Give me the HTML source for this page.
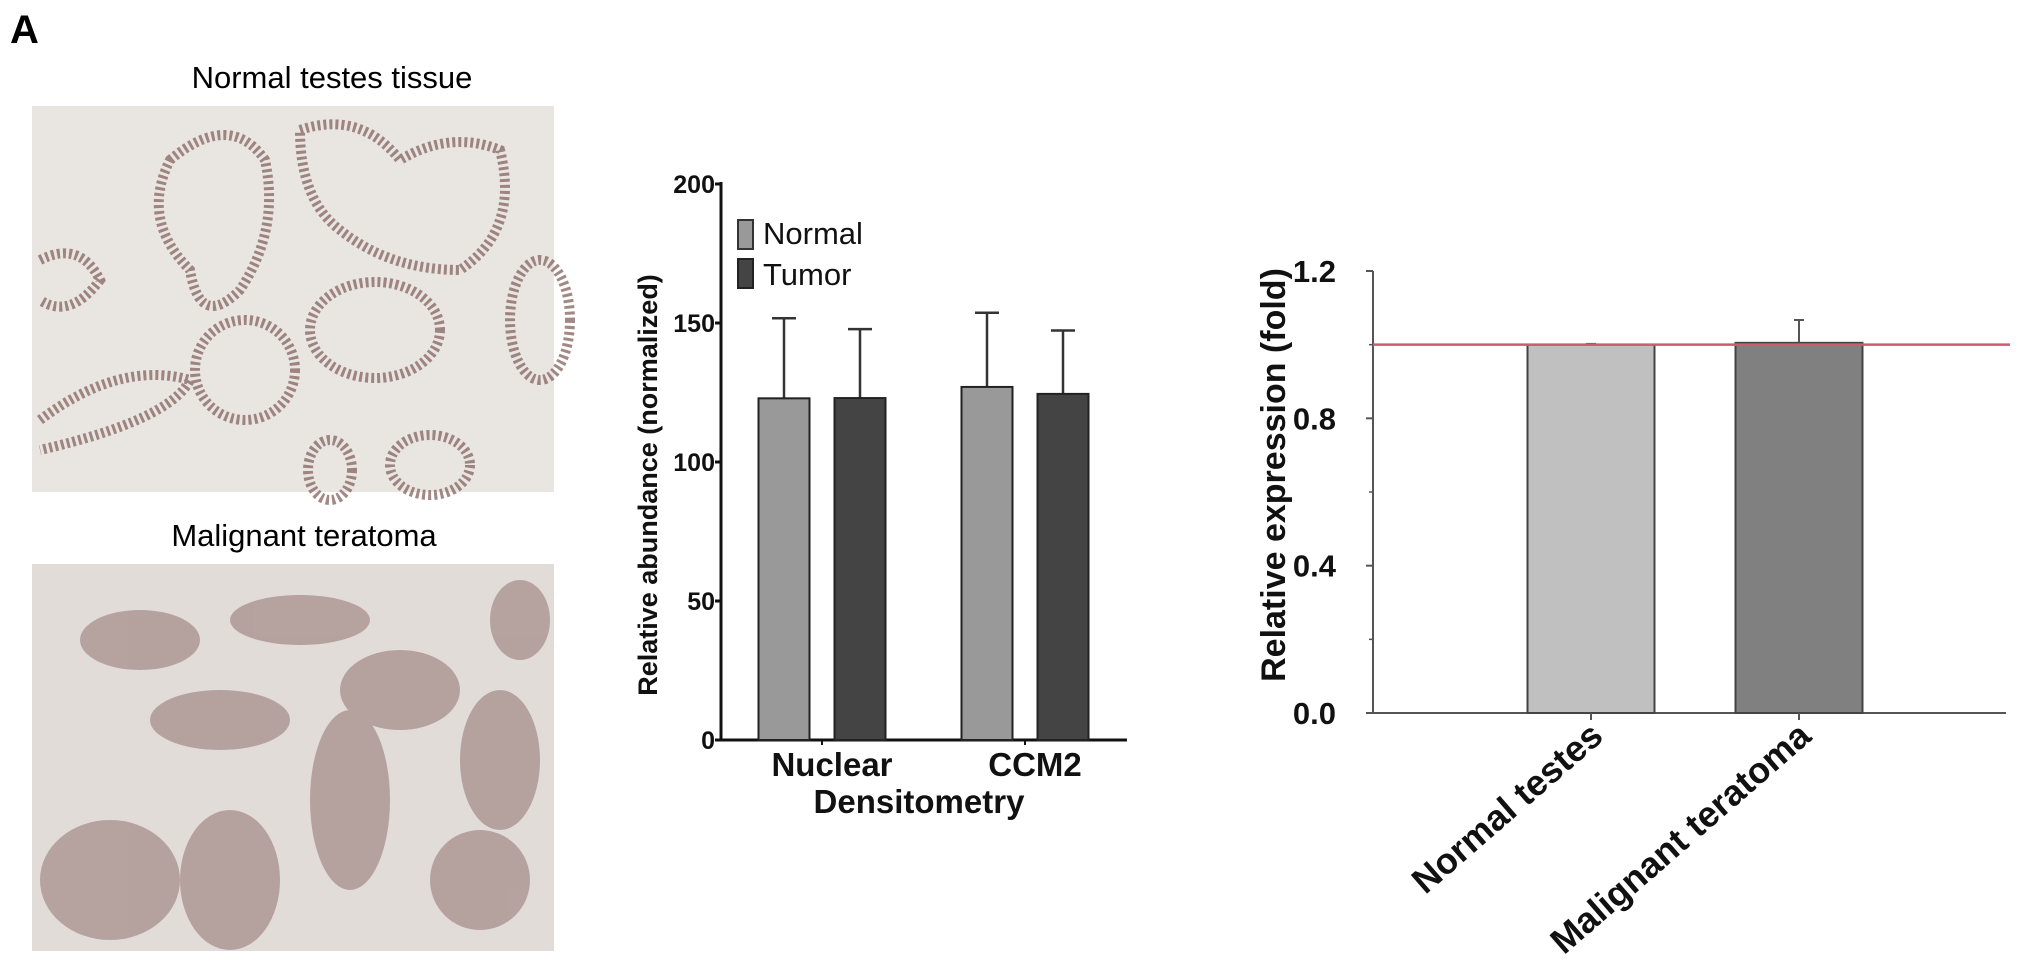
<!DOCTYPE html>
<html><head><meta charset="utf-8"><style>
html,body{margin:0;padding:0;background:#fff;}
svg{display:block;font-family:"Liberation Sans",Arial,sans-serif;}
</style></head><body>
<svg width="2031" height="964" viewBox="0 0 2031 964">
<text x="10" y="43" font-size="40" font-weight="bold">A</text>
<text x="332" y="88" font-size="31" text-anchor="middle">Normal testes tissue</text>
<g>
<rect x="32" y="106" width="522" height="386" fill="#e9e6e1"/>
<g fill="none" stroke="#8c6c68" stroke-width="10" stroke-dasharray="3 3" opacity="0.8">
<path d="M170 160 Q230 110 265 160 Q280 230 240 290 Q200 330 190 270 Q140 220 170 160Z"/>
<path d="M300 130 Q360 110 400 160 Q450 130 500 150 Q520 230 460 270 Q390 270 340 230 Q300 200 300 130Z"/>
<ellipse cx="245" cy="370" rx="50" ry="50"/>
<ellipse cx="375" cy="330" rx="65" ry="48"/>
<path d="M40 260 Q80 240 100 280 Q70 320 40 300"/>
<path d="M40 420 Q120 360 190 380 Q170 420 40 450"/>
<ellipse cx="430" cy="465" rx="40" ry="30"/>
<ellipse cx="540" cy="320" rx="30" ry="60"/>
<ellipse cx="330" cy="470" rx="22" ry="30"/>
</g></g>
<text x="304" y="546" font-size="31" text-anchor="middle">Malignant teratoma</text>
<g>
<rect x="32" y="564" width="522" height="387" fill="#e2dcd8"/>
<g fill="#8a6a66" opacity="0.5">
<ellipse cx="140" cy="640" rx="60" ry="30"/><ellipse cx="300" cy="620" rx="70" ry="25"/>
<ellipse cx="400" cy="690" rx="60" ry="40"/><ellipse cx="220" cy="720" rx="70" ry="30"/>
<ellipse cx="350" cy="800" rx="40" ry="90"/><ellipse cx="500" cy="760" rx="40" ry="70"/>
<ellipse cx="110" cy="880" rx="70" ry="60"/><ellipse cx="230" cy="880" rx="50" ry="70"/>
<ellipse cx="480" cy="880" rx="50" ry="50"/><ellipse cx="520" cy="620" rx="30" ry="40"/>
</g></g>

<g id="c1"></g>
<g id="c2"></g>
</svg>
<script>
const NS='http://www.w3.org/2000/svg';
function mk(p,t,a,txt){const e=document.createElementNS(NS,t);for(const k in a)e.setAttribute(k,a[k]);if(txt!==undefined)e.textContent=txt;p.appendChild(e);return e;}

// Chart 1 data
const c1Groups=['Nuclear','CCM2'];
const c1Normal=[122.9,127];
const c1Tumor=[123,124.5];
const c1NormalErr=[28.8,26.7];
const c1TumorErr=[24.8,22.8];
const c1Ticks=[0,50,100,150,200];

// Chart 2 data
const c2Cats=['Normal testes','Malignant teratoma'];
const c2Vals=[1.0,1.005];
const c2Err=[0.002,0.062];
const c2Ticks=[0.0,0.4,0.8,1.2];
const c2Minor=[0.2,0.6,1.0];
const c2Ref=1.0;

(function(){
const g=document.getElementById('c1');
const x0=721,x1=1127,y0=740,yTop=184;
const Y=v=>y0-(v/200)*(y0-yTop);
const gc=[822,1025],bw=51,off=38;
mk(g,'line',{x1:x0,y1:yTop-2,x2:x0,y2:y0,stroke:'#111','stroke-width':3});
mk(g,'line',{x1:x0,y1:y0,x2:x1,y2:y0,stroke:'#111','stroke-width':3});
c1Ticks.forEach(t=>{
 const l=mk(g,'line',{x1:x0-6,y1:Y(t),x2:x0,y2:Y(t),stroke:'#111','stroke-width':3});
 
 const tx=mk(g,'text',{x:715,y:Y(t)+9,'font-size':25,'font-weight':'bold','text-anchor':'end',fill:'#111'},String(t));
 
});
c1Groups.forEach((name,i)=>{
 const c=gc[i];
 [[c1Normal[i],c1NormalErr[i],c-off,'#999999'],[c1Tumor[i],c1TumorErr[i],c+off,'#444444']].forEach((s,j)=>{
  mk(g,'line',{x1:s[2],y1:Y(s[0]),x2:s[2],y2:Y(s[0]+s[1]),stroke:'#333','stroke-width':2.5});
  mk(g,'line',{x1:s[2]-12,y1:Y(s[0]+s[1]),x2:s[2]+12,y2:Y(s[0]+s[1]),stroke:'#333','stroke-width':2.5});
  const r=mk(g,'rect',{x:s[2]-bw/2,y:Y(s[0]),width:bw,height:y0-Y(s[0]),fill:s[3],stroke:'#222','stroke-width':2});
  
  
 });
 mk(g,'line',{x1:c,y1:y0,x2:c,y2:y0+5,stroke:'#111','stroke-width':2});
 const t=mk(g,'text',{x:c+10,y:776,'font-size':33,'font-weight':'bold','text-anchor':'middle',fill:'#111'},name);
 
});
const xt=mk(g,'text',{x:919,y:813,'font-size':33,'font-weight':'bold','text-anchor':'middle',fill:'#111'},'Densitometry');

const yt=mk(g,'text',{x:0,y:0,'font-size':27,'font-weight':'bold','text-anchor':'middle',fill:'#111',transform:'translate(657,485) rotate(-90)'},'Relative abundance (normalized)');

const l1=mk(g,'rect',{x:738,y:220,width:15,height:29,fill:'#999',stroke:'#333','stroke-width':2});

const lt1=mk(g,'text',{x:763,y:244,'font-size':31,fill:'#111'},'Normal');

const l2=mk(g,'rect',{x:738,y:259,width:15,height:29,fill:'#444',stroke:'#222','stroke-width':2});

const lt2=mk(g,'text',{x:763,y:285,'font-size':31,fill:'#111'},'Tumor');

})();

(function(){
const g=document.getElementById('c2');
const x0=1373,x1=2006,y0=713,yTop=271;
const Y=v=>y0-(v/1.2)*(y0-yTop);
const cx=[1591,1799],bw=127;
mk(g,'line',{x1:x0,y1:yTop,x2:x0,y2:y0,stroke:'#555','stroke-width':2});
mk(g,'line',{x1:x0,y1:y0,x2:x1,y2:y0,stroke:'#555','stroke-width':2});
c2Ticks.forEach(t=>{
 const l=mk(g,'line',{x1:x0-7,y1:Y(t),x2:x0,y2:Y(t),stroke:'#555','stroke-width':2});
 
 const tx=mk(g,'text',{x:1336,y:Y(t)+11,'font-size':31,'font-weight':'bold','text-anchor':'end',fill:'#111'},t.toFixed(1));
 
});
c2Minor.forEach(t=>{
 const l=mk(g,'line',{x1:x0-4,y1:Y(t),x2:x0,y2:Y(t),stroke:'#555','stroke-width':1.5});
 
});
c2Cats.forEach((name,i)=>{
 const c=cx[i];
 mk(g,'line',{x1:c,y1:Y(c2Vals[i]),x2:c,y2:Y(c2Vals[i]+c2Err[i]),stroke:'#555','stroke-width':2});
 mk(g,'line',{x1:c-5,y1:Y(c2Vals[i]+c2Err[i]),x2:c+5,y2:Y(c2Vals[i]+c2Err[i]),stroke:'#555','stroke-width':2});
 const r=mk(g,'rect',{x:c-bw/2,y:Y(c2Vals[i]),width:bw,height:y0-Y(c2Vals[i]),fill:i==0?'#c0c0c0':'#808080',stroke:'#444','stroke-width':2});
 
 
 mk(g,'line',{x1:c,y1:y0,x2:c,y2:y0+7,stroke:'#555','stroke-width':2});
 const t=mk(g,'text',{x:0,y:0,'font-size':36,'font-weight':'bold','text-anchor':'end',fill:'#111',transform:`translate(${c+14},${y0+26}) rotate(-41)`},name);
 
});
const rl=mk(g,'line',{x1:x0,y1:Y(c2Ref),x2:2010,y2:Y(c2Ref),stroke:'#d25a70','stroke-width':2.5});

const yt=mk(g,'text',{x:0,y:0,'font-size':34,'font-weight':'bold','text-anchor':'middle',fill:'#111',transform:'translate(1285,475) rotate(-90)'},'Relative expression (fold)');

})();
</script>
</body></html>
